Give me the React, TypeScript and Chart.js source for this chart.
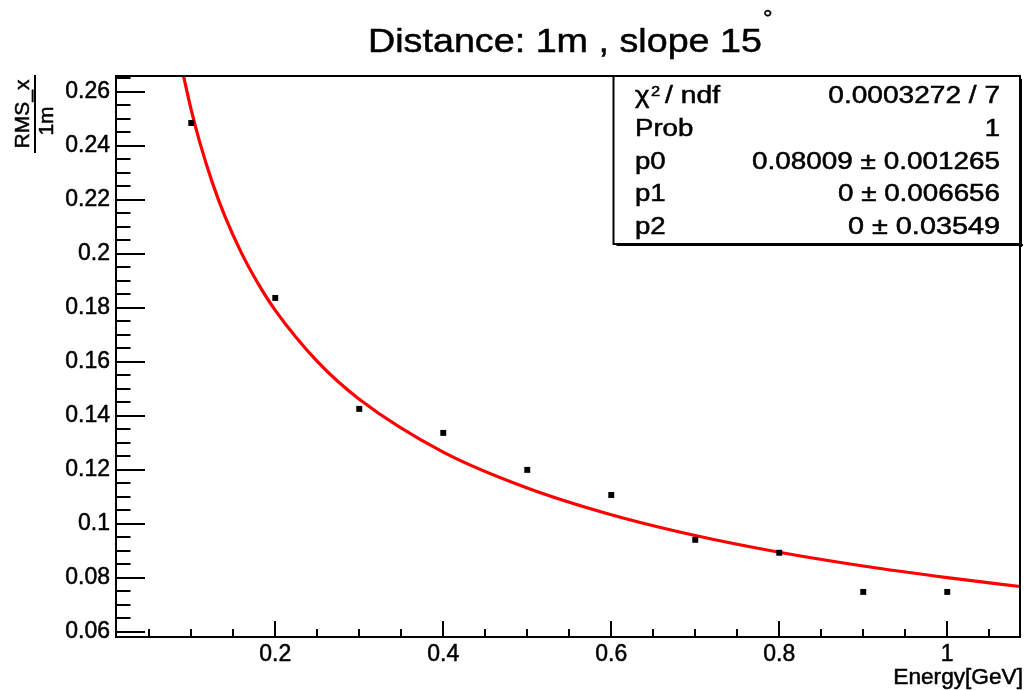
import { useEffect, useRef } from "react";
import { Chart, registerables } from "chart.js";

Chart.register(...registerables);

// ---- data ----
const energies = [0.1, 0.2, 0.3, 0.4, 0.5, 0.6, 0.7, 0.8, 0.9, 1.0];
const rmsValues = [0.2485, 0.1837, 0.1426, 0.1337, 0.12, 0.1107, 0.0941, 0.0893, 0.0748, 0.0748];

// fitted curve
const fitEnergies = [0.0907, 0.1, 0.11, 0.125, 0.14, 0.16, 0.18, 0.2, 0.25, 0.3, 0.4, 0.5, 0.6, 0.7, 0.8, 0.9, 1.0, 1.0866];
const fitValues = [0.266, 0.2533, 0.2415, 0.2265, 0.214, 0.2002, 0.1888, 0.1791, 0.1602, 0.1462, 0.1266, 0.1133, 0.1034, 0.0957, 0.0895, 0.0844, 0.0801, 0.0768];

const xTickLabels = ["0.2", "0.4", "0.6", "0.8", "1"];
const yTickLabels = ["0.06", "0.08", "0.1", "0.12", "0.14", "0.16", "0.18", "0.2", "0.22", "0.24", "0.26"];

const statLabels = ["χ", "Prob", "p0", "p1", "p2"];
const statValues = ["0.0003272 / 7", "1", "0.08009 ± 0.001265", "0 ± 0.006656", "0 ± 0.03549"];

const titleText = "Distance: 1m , slope 15";
const xTitle = "Energy[GeV]";
const yTitleNum = "RMS_x";
const yTitleDen = "1m";

const X_MIN = 0.0104;
const X_MAX = 1.0866;
const Y_MIN = 0.0581;
const Y_MAX = 0.2659;

const FONT = '"Liberation Sans", Arial, Helvetica, sans-serif';

function drawText(
  ctx: CanvasRenderingContext2D,
  s: string,
  x: number,
  y: number,
  size: number,
  align: CanvasTextAlign = "left",
  sx = 1,
  width?: number
) {
  ctx.save();
  ctx.font = `${size}px ${FONT}`;
  ctx.textAlign = align;
  ctx.textBaseline = "alphabetic";
  ctx.fillStyle = "#000";
  ctx.strokeStyle = "#000";
  ctx.lineWidth = 0.5;
  let k = sx;
  if (width) k = width / ctx.measureText(s).width;
  ctx.translate(x, y);
  ctx.scale(k, 1);
  ctx.fillText(s, 0, 0);
  ctx.strokeText(s, 0, 0);
  ctx.restore();
}

const rootDecor = {
  id: "rootDecor",
  afterDraw(chart: any) {
    const ctx: CanvasRenderingContext2D = chart.ctx;
    const { left, right, top, bottom } = chart.chartArea;
    const xs = chart.scales.x;
    const ys = chart.scales.y;
    ctx.save();
    ctx.strokeStyle = "#000";
    ctx.lineWidth = 2;

    // y ticks (inward), major every 0.02, minor every 0.005
    for (let k = 0; ; k++) {
      const v = 0.06 + k * 0.005;
      if (v > Y_MAX + 1e-9) break;
      const py = Math.round(ys.getPixelForValue(v));
      const len = k % 4 === 0 ? 29 : 14.5;
      ctx.beginPath();
      ctx.moveTo(left, py);
      ctx.lineTo(left + len, py);
      ctx.stroke();
    }
    // x ticks (inward), major every 0.2, minor every 0.05
    for (let k = 1; ; k++) {
      const v = k * 0.05;
      if (v > X_MAX) break;
      const px = Math.round(xs.getPixelForValue(v));
      const len = k % 4 === 0 ? 16 : 8;
      ctx.beginPath();
      ctx.moveTo(px, bottom);
      ctx.lineTo(px, bottom - len);
      ctx.stroke();
    }
    // frame
    ctx.strokeRect(left, top, right - left, bottom - top);

    // stats box
    const bx = 613.5, by = top, bw = right - 613.5, bh = 244 - top;
    ctx.fillStyle = "#fff";
    ctx.fillRect(bx, by, bw, bh);
    ctx.fillStyle = "#000";
    ctx.fillRect(bx + 3, by + bh, bw, 2);
    ctx.fillRect(bx + bw, by + 3, 2, bh);
    ctx.strokeRect(bx, by, bw, bh);

    const rowY = [103.3, 136, 168.7, 201.2, 233.6];
    const valWidths = [171.7, 0, 248, 162, 152];
    const labSx = 1.2;
    for (let i = 0; i < statLabels.length; i++) {
      if (i === 0) {
        drawText(ctx, statLabels[0], 635, rowY[0], 23, "left", labSx);
        drawText(ctx, "2", 651, rowY[0] - 7, 15, "left", 1.1);
        drawText(ctx, "/ ndf", 665, rowY[0], 23, "left", 1, 55);
      } else {
        drawText(ctx, statLabels[i], 635, rowY[i], 23, "left", labSx);
      }
      if (valWidths[i] > 0) drawText(ctx, statValues[i], 1000, rowY[i], 23, "right", 1, valWidths[i]);
      else drawText(ctx, statValues[i], 1000, rowY[i], 23, "right", 1.2);
    }

    // title
    drawText(ctx, titleText, 368, 51.7, 33.5, "left", 1, 394);
    drawText(ctx, "°", 763, 26, 24, "left", 1);

    // x axis title
    drawText(ctx, xTitle, 1023, 684, 22, "right", 1.03);

    // y axis title as a fraction
    ctx.save();
    ctx.translate(29, 114);
    ctx.rotate(-Math.PI / 2);
    drawText(ctx, yTitleNum, 0, 0, 21, "center", 1);
    ctx.restore();
    ctx.save();
    ctx.translate(53, 121);
    ctx.rotate(-Math.PI / 2);
    drawText(ctx, yTitleDen, 0, 0, 21, "center", 1);
    ctx.restore();
    ctx.fillStyle = "#000";
    ctx.fillRect(34, 75, 2, 78);

    ctx.restore();
  },
};

export default function App() {
  const canvasRef = useRef<HTMLCanvasElement | null>(null);

  useEffect(() => {
    if (!canvasRef.current) return;
    Chart.defaults.font.family = FONT;
    const chart = new Chart(canvasRef.current, {
      type: "scatter",
      data: {
        datasets: [
          {
            label: "fit",
            data: fitEnergies.map((x, i) => ({ x, y: fitValues[i] })),
            showLine: true,
            borderColor: "#ff0000",
            borderWidth: 3.2,
            pointRadius: 0,
            cubicInterpolationMode: "monotone",
            order: 2,
          } as any,
          {
            label: "RMS",
            data: energies.map((x, i) => ({ x, y: rmsValues[i] })),
            showLine: false,
            pointStyle: "rect",
            pointRadius: 4.2,
            borderWidth: 0,
            backgroundColor: "#000",
            order: 1,
          } as any,
        ],
      },
      options: {
        responsive: false,
        animation: false,
        devicePixelRatio: 1,
        layout: { padding: { left: 0, right: 5, top: 76, bottom: 0 } },
        plugins: {
          legend: { display: false },
          tooltip: { enabled: false },
          title: { display: false },
        },
        scales: {
          x: {
            type: "linear",
            min: X_MIN,
            max: X_MAX,
            grid: { display: false, drawTicks: false },
            border: { display: false },
            afterBuildTicks: (s: any) => {
              s.ticks = xTickLabels.map((l) => ({ value: Number(l) }));
            },
            afterFit: (s: any) => {
              s.height = 53;
            },
            ticks: {
              autoSkip: false,
              maxRotation: 0,
              minRotation: 0,
              padding: 4,
              color: "#000",
              textStrokeColor: "#000",
              textStrokeWidth: 0.5,
              font: { size: 23, family: FONT },
              callback: (_v: any, i: number) => xTickLabels[i],
            },
          },
          y: {
            type: "linear",
            min: Y_MIN,
            max: Y_MAX,
            grid: { display: false, drawTicks: false },
            border: { display: false },
            afterBuildTicks: (s: any) => {
              s.ticks = yTickLabels.map((l) => ({ value: Number(l) }));
            },
            afterFit: (s: any) => {
              s.width = 116;
            },
            ticks: {
              autoSkip: false,
              padding: 6,
              color: "#000",
              textStrokeColor: "#000",
              textStrokeWidth: 0.5,
              font: { size: 23, family: FONT },
              callback: (_v: any, i: number) => yTickLabels[i],
            },
          },
        },
      },
      plugins: [rootDecor],
    });
    return () => chart.destroy();
  }, []);

  return (
    <div style={{ position: "absolute", left: 0, top: 0, width: 1025, height: 690, background: "#fff" }}>
      <canvas ref={canvasRef} width={1025} height={690} style={{ display: "block" }} />
    </div>
  );
}
